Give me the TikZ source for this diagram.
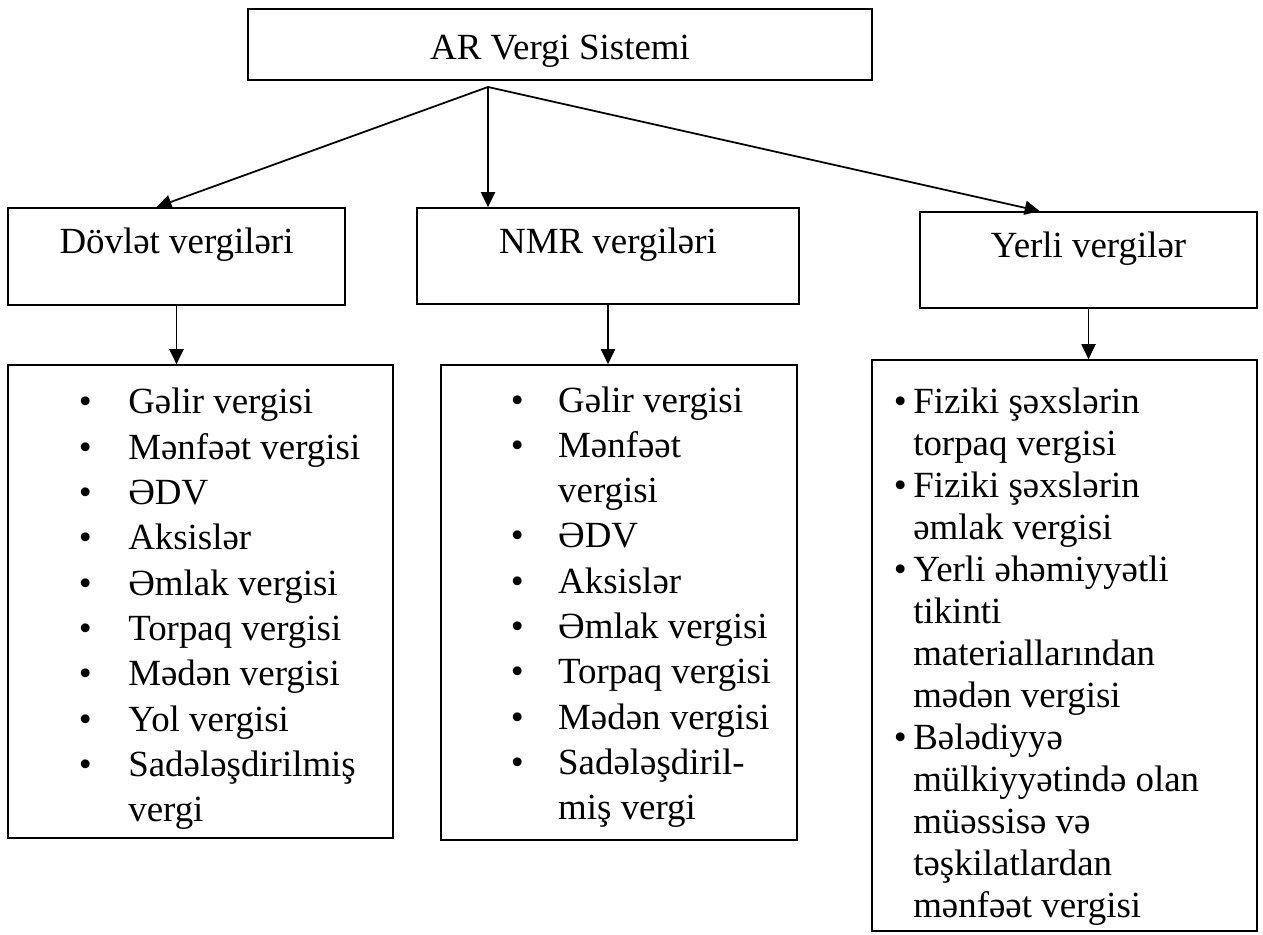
\documentclass[tikz,border=0pt]{standalone}
\usepackage{fontspec}
\setmainfont{Liberation Serif}
\usetikzlibrary{arrows.meta}

\newcommand\itemfont{\fontsize{21}{25.8}\selectfont}
\newcommand\itemfonttight{\fontsize{21}{23.9}\selectfont}

\tikzset{
  box/.style={draw, line width=1pt, inner sep=0pt},
  headbox/.style={box, font=\itemfont, text height=14pt, text depth=17.4pt},
  listtext/.style={inner sep=0pt, anchor=base west, font=\itemfont},
  link/.style={-{Triangle[length=8.5pt,width=8pt]}, line width=1pt}
}

\begin{document}
\begin{tikzpicture}[x=0.02cm, y=-0.02cm]
  \useasboundingbox (0,0) rectangle (1263,935);

  % sistem
  \node[box, font=\itemfont, text height=17pt, text depth=0pt,
        minimum width=12.48cm, minimum height=1.42cm] (sys) at (560,44.5) {AR Vergi Sistemi};

  % vergi qruplari
  \node[headbox, minimum width=6.74cm, minimum height=1.94cm] (dov) at (176.5,256.5) {Dövlət vergiləri};
  \node[headbox, minimum width=7.64cm, minimum height=1.92cm] (nmr) at (608,256) {NMR vergiləri};
  \node[headbox, minimum width=6.74cm, minimum height=1.92cm] (yer) at (1088.5,260) {Yerli vergilər};

  \coordinate (apex) at (488,87);
  \draw[link] (apex) -- (dov.112);
  \draw[link] (apex) -- (apex |- nmr.north);
  \draw[link] (apex) -- (yer.135);

  % siyahilar
  \node[box, minimum width=7.7cm, minimum height=9.46cm] (dlist) at (200.5,601.5) {};
  \node[box, minimum width=7.12cm, minimum height=9.5cm] (nlist) at (619,602.5) {};
  \node[box, minimum width=7.7cm, minimum height=11.42cm] (ylist) at (1064.5,645.5) {};

  \draw[link] (dov.south) -- (dov.south |- dlist.north);
  \draw[link] (nmr.south) -- (nmr.south |- nlist.north);
  \draw[link] (yer.south) -- (yer.south |- ylist.north);

  \node[listtext] (dtext) at (78.5,414) {%
    \begin{tabular}[t]{@{}l@{\hspace{20.8pt}}l@{}}
      \textbullet & Gəlir vergisi\\
      \textbullet & Mənfəət vergisi\\
      \textbullet & ƏDV\\
      \textbullet & Aksislər\\
      \textbullet & Əmlak vergisi\\
      \textbullet & Torpaq vergisi\\
      \textbullet & Mədən vergisi\\
      \textbullet & Yol vergisi\\
      \textbullet & Sadələşdirilmiş\\
                  & vergi
    \end{tabular}};

  \node[listtext] (ntext) at (510.5,412) {%
    \begin{tabular}[t]{@{}l@{\hspace{19.6pt}}l@{}}
      \textbullet & Gəlir vergisi\\
      \textbullet & Mənfəət\\
                  & vergisi\\
      \textbullet & ƏDV\\
      \textbullet & Aksislər\\
      \textbullet & Əmlak vergisi\\
      \textbullet & Torpaq vergisi\\
      \textbullet & Mədən vergisi\\
      \textbullet & Sadələşdiril-\\
                  & miş vergi
    \end{tabular}};

  \node[listtext, font=\itemfonttight] (ytext) at (893.5,414) {%
    \begin{tabular}[t]{@{}l@{\hspace{3.7pt}}l@{}}
      \textbullet & Fiziki şəxslərin\\
                  & torpaq vergisi\\
      \textbullet & Fiziki şəxslərin\\
                  & əmlak vergisi\\
      \textbullet & Yerli əhəmiyyətli\\
                  & tikinti\\
                  & materiallarından\\
                  & mədən vergisi\\
      \textbullet & Bələdiyyə\\
                  & mülkiyyətində olan\\
                  & müəssisə və\\
                  & təşkilatlardan\\
                  & mənfəət vergisi
    \end{tabular}};

\end{tikzpicture}
\end{document}
